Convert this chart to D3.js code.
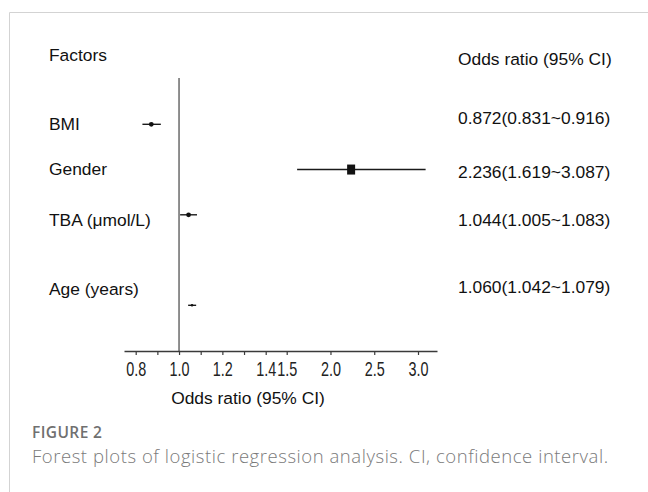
<!DOCTYPE html>
<html>
<head>
<meta charset="utf-8">
<script src="https://cdn.jsdelivr.net/npm/d3@7/dist/d3.min.js"></script>
<style>
  html, body { margin: 0; padding: 0; background: #fff; }
  svg { display: block; }
</style>
</head>
<body>
<svg id="chart" width="648" height="492"></svg>
<script>
// ---------- data ----------
const factors = ["BMI", "Gender", "TBA (\u03bcmol/L)", "Age (years)"];
const oddsRatio = [0.872, 2.236, 1.044, 1.060];
const ciLow = [0.831, 1.619, 1.005, 1.042];
const ciHigh = [0.916, 3.087, 1.083, 1.079];
const tickValues = [0.8, 0.9, 1.0, 1.1, 1.2, 1.3, 1.4, 1.5, 2.0, 2.5, 3.0];
const tickLabels = [0.8, 1.0, 1.2, 1.4, 1.5, 2.0, 2.5, 3.0];
const headerLeft = "Factors";
const headerRight = "Odds ratio (95% CI)";
const axisTitle = "Odds ratio (95% CI)";
const figureLabel = "FIGURE 2";
const caption = "Forest plots of logistic regression analysis. CI, confidence interval.";

// ---------- layout ----------
const svg = d3.select("#chart");
const FONT = "'Liberation Sans', Arial, Helvetica, sans-serif";
const FS = 17.4;
const axisY = 351;
const refTop = 78;
const rowSlot = [1, 2, 3, 5];          // row slots (slot 4 is an empty gap)
const leftOffset = [6, 5, 11, -10];    // label baseline offsets from row centre
const rightOffset = [0, 8, 11, -12.5];
const markerKind = ["dot", "square", "dot", "small"];

// piecewise (broken) odds-ratio axis
const x = d3.scaleLinear()
  .domain([0.746, 1.4, 1.5, 3.217])
  .range([124, 265.7, 286.7, 437]);
const y = d3.scaleLinear().domain([1, 5]).range([124.3, 305.3]);

// card border
svg.append("path")
  .attr("d", "M9.5,492 V12.5 H648")
  .attr("fill", "none").attr("stroke", "#d3d3d3").attr("stroke-width", 1);

// headers
svg.append("text").attr("x", 49).attr("y", 61).text(headerLeft)
  .attr("font-family", FONT).attr("font-size", FS).attr("fill", "#111");
svg.append("text").attr("x", 458).attr("y", 65).text(headerRight)
  .attr("font-family", FONT).attr("font-size", FS).attr("fill", "#111");

// factor labels
svg.append("g").selectAll("text").data(factors).join("text")
  .attr("x", 49)
  .attr("y", (d, i) => y(rowSlot[i]) + leftOffset[i])
  .text(d => d)
  .attr("font-family", FONT).attr("font-size", FS).attr("fill", "#111");

// OR text
svg.append("g").selectAll("text").data(oddsRatio).join("text")
  .attr("x", 458)
  .attr("y", (d, i) => y(rowSlot[i]) + rightOffset[i])
  .text((d, i) => `${d.toFixed(3)}(${ciLow[i].toFixed(3)}~${ciHigh[i].toFixed(3)})`)
  .attr("font-family", FONT).attr("font-size", FS).attr("fill", "#111");

// reference line at OR = 1
svg.append("line")
  .attr("x1", x(1)).attr("x2", x(1))
  .attr("y1", refTop).attr("y2", axisY)
  .attr("stroke", "#6a6a6a").attr("stroke-width", 1.5);

// axis
const labelSet = new Set(tickLabels.map(v => v.toFixed(1)));
const axis = d3.axisBottom(x)
  .tickValues(tickValues)
  .tickSizeInner(4).tickSizeOuter(0).tickPadding(6)
  .tickFormat(d => labelSet.has(d.toFixed(1)) ? d.toFixed(1) : "");
const gAxis = svg.append("g").attr("transform", `translate(0,${axisY})`).call(axis);
gAxis.select(".domain").attr("stroke", "#3a3a3a").attr("stroke-width", 1.3);
gAxis.selectAll(".tick line").attr("stroke", "#3a3a3a").attr("stroke-width", 1.2);
gAxis.selectAll(".tick text")
  .attr("font-family", FONT).attr("font-size", 20).attr("fill", "#222")
  .attr("y", null).attr("dy", null)
  .attr("transform", "translate(0,25) scale(0.72,1)");

svg.append("text").attr("x", 248).attr("y", 404)
  .attr("text-anchor", "middle").text(axisTitle)
  .attr("font-family", FONT).attr("font-size", FS).attr("fill", "#111");

// CI lines
const gMarks = svg.append("g");
gMarks.selectAll("line").data(oddsRatio).join("line")
  .attr("x1", (d, i) => x(ciLow[i])).attr("x2", (d, i) => x(ciHigh[i]))
  .attr("y1", (d, i) => y(rowSlot[i])).attr("y2", (d, i) => y(rowSlot[i]))
  .attr("stroke", "#1a1a1a").attr("stroke-width", 1.4);

// point markers
oddsRatio.forEach((d, i) => {
  const cx = x(d), cy = y(rowSlot[i]);
  if (markerKind[i] === "square") {
    gMarks.append("rect").attr("x", cx - 4).attr("y", cy - 5)
      .attr("width", 8).attr("height", 10).attr("fill", "#111");
  } else {
    gMarks.append("circle").attr("cx", cx).attr("cy", cy)
      .attr("r", markerKind[i] === "small" ? 1.3 : 2.4).attr("fill", "#111");
  }
});

// caption
svg.append("text").attr("x", 32).attr("y", 438).text(figureLabel)
  .attr("font-family", "'Open Sans', 'Noto Sans', sans-serif")
  .attr("font-size", 15.5).attr("font-weight", 600).attr("letter-spacing", 0.4)
  .attr("fill", "#707070");
svg.append("text").attr("x", 32).attr("y", 463).text(caption)
  .attr("font-family", "'Open Sans', 'Noto Sans', sans-serif")
  .attr("font-size", 18.5).attr("font-weight", 300).attr("letter-spacing", 0.55)
  .attr("fill", "#7a7a7a");
</script>
</body>
</html>
